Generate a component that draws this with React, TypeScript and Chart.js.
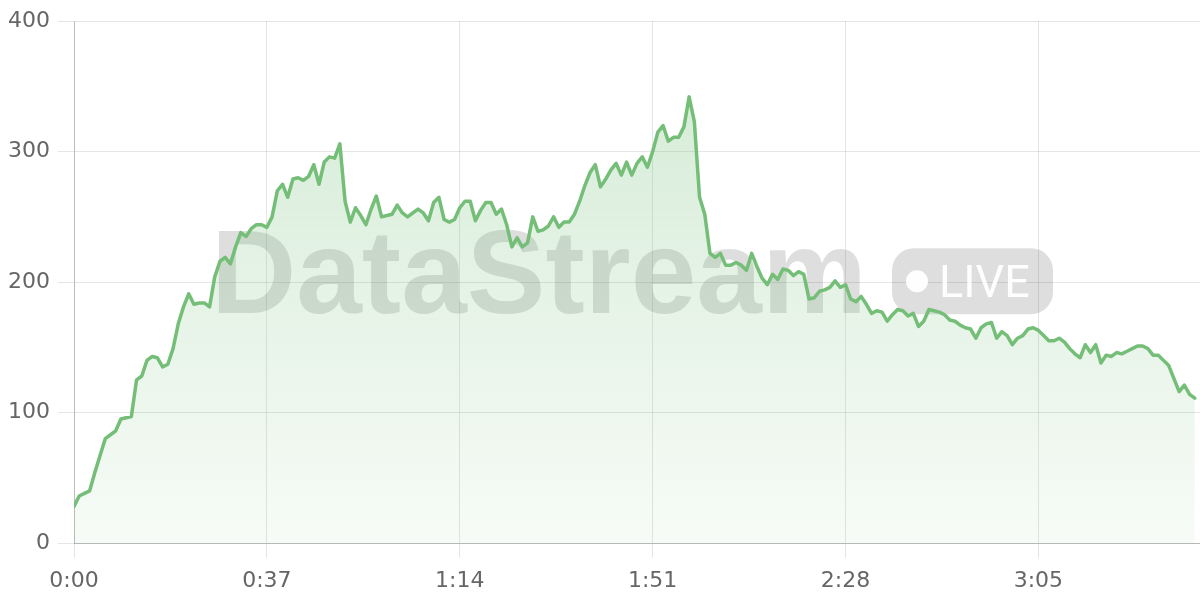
import { useEffect, useRef } from 'react';
import { Chart, registerables } from 'chart.js';

Chart.register(...registerables);

// one sample per second, 0:00 .. 3:35
const values: number[] = [
  28, 36, 38, 40, 54, 67, 80, 83, 86, 95,
  96, 97, 125, 128, 140, 143, 142, 135, 137, 149,
  168, 181, 191, 183, 184, 184, 181, 204, 216, 219,
  214, 227, 238, 235, 241, 244, 244, 242, 250, 270,
  275, 265, 279, 280, 278, 281, 290, 275, 292, 296,
  295, 306, 262, 246, 257, 251, 244, 256, 266, 250,
  251, 252, 259, 253, 250, 253, 256, 253, 247, 261,
  265, 248, 246, 248, 257, 262, 262, 247, 255, 261,
  261, 252, 256, 244, 227, 234, 227, 230, 250, 239,
  240, 243, 250, 242, 246, 246, 252, 262, 274, 284,
  290, 273, 279, 286, 291, 282, 292, 282, 291, 296,
  288, 300, 315, 320, 308, 311, 311, 319, 342, 323,
  265, 252, 222, 219, 222, 213, 213, 215, 213, 209,
  222, 212, 203, 198, 206, 202, 210, 209, 205, 208,
  206, 187, 188, 193, 194, 196, 201, 196, 198, 187,
  185, 189, 183, 176, 178, 177, 170, 175, 179, 178,
  174, 176, 166, 170, 179, 178, 177, 175, 171, 170,
  167, 165, 164, 157, 165, 168, 169, 157, 162, 159,
  152, 157, 159, 164, 165, 163, 159, 155, 155, 157,
  154, 149, 145, 142, 152, 146, 152, 138, 144, 143,
  146, 145, 147, 149, 151, 151, 149, 144, 144, 140,
  136, 126, 116, 121, 114, 111,
];

const xTickSeconds: number[] = [0, 37, 74, 111, 148, 185];
const xMaxSeconds = 216;
const yMin = 0;
const yMax = 400;
const yStep = 100;
const watermarkTitle = 'DataStream';
const watermarkBadge = 'LIVE';

const LINE = 'rgb(116,190,120)';
const TICK_FONT = { family: '"DejaVu Sans", sans-serif', size: 22 };

function fmtTime(s: number): string {
  const m = Math.floor(s / 60);
  const ss = Math.round(s % 60);
  return `${m}:${String(ss).padStart(2, '0')}`;
}

const watermarkPlugin = {
  id: 'watermark',
  beforeDatasetsDraw(chart: any) {
    const { ctx, chartArea } = chart;
    const L = chartArea.left;
    const T = chartArea.top;
    ctx.save();
    ctx.fillStyle = 'rgba(0,0,0,0.13)';
    ctx.font = 'bold 118px "Liberation Sans", Arial, sans-serif';
    ctx.textBaseline = 'alphabetic';
    ctx.textAlign = 'left';
    ctx.fillText(watermarkTitle, L + 137, T + 292);
    ctx.beginPath();
    ctx.roundRect(L + 818, T + 227, 161, 66, 22);
    ctx.fillStyle = 'rgba(0,0,0,0.13)';
    ctx.fill();
    ctx.fillStyle = 'rgba(255,255,255,0.95)';
    ctx.beginPath();
    ctx.arc(L + 843, T + 260, 11, 0, Math.PI * 2);
    ctx.fill();
    ctx.font = '400 45px Roboto, sans-serif';
    ctx.fillText(watermarkBadge, L + 865, T + 276);
    ctx.restore();
  },
};

export default function App() {
  const ref = useRef<HTMLCanvasElement | null>(null);
  useEffect(() => {
    if (!ref.current) return;
    const chart = new Chart(ref.current, {
      type: 'line',
      data: {
        datasets: [
          {
            data: values.map((v, i) => ({ x: i, y: v })),
            borderColor: LINE,
            borderWidth: 3.5,
            borderJoinStyle: 'round',
            borderCapStyle: 'round',
            pointRadius: 0,
            tension: 0,
            fill: 'origin',
            backgroundColor: (c: any) => {
              const area = c.chart.chartArea;
              if (!area) return 'rgba(116,190,120,0.15)';
              const g = c.chart.ctx.createLinearGradient(0, area.top, 0, area.bottom);
              g.addColorStop(0, 'rgba(116,190,120,0.32)');
              g.addColorStop(1, 'rgba(116,190,120,0.06)');
              return g;
            },
          },
        ],
      },
      options: {
        animation: false,
        responsive: true,
        maintainAspectRatio: false,
        layout: { padding: { top: 20, right: 0, left: 0, bottom: 0 } },
        plugins: { legend: { display: false }, tooltip: { enabled: false } },
        scales: {
          x: {
            type: 'linear',
            min: 0,
            max: xMaxSeconds,
            afterBuildTicks: (s: any) => {
              s.ticks = xTickSeconds.map((v) => ({ value: v }));
            },
            afterFit: (s: any) => {
              s.height = 57;
            },
            ticks: {
              callback: (v: any) => fmtTime(Number(v)),
              font: TICK_FONT,
              color: '#666',
              padding: 10,
              maxRotation: 0,
              autoSkip: false,
            },
            grid: { color: 'rgba(0,0,0,0.1)', tickLength: 15 },
            border: { color: 'rgba(0,0,0,0.2)' },
          },
          y: {
            min: yMin,
            max: yMax,
            afterFit: (s: any) => {
              s.width = 74;
            },
            ticks: { stepSize: yStep, font: TICK_FONT, color: '#666', padding: 8 },
            grid: { color: 'rgba(0,0,0,0.1)', tickLength: 16 },
            border: { color: 'rgba(0,0,0,0.18)' },
          },
        },
      },
      plugins: [watermarkPlugin],
    });
    return () => chart.destroy();
  }, []);
  return (
    <div style={{ position: 'fixed', left: 0, top: 0, width: 1200, height: 600, background: '#fff' }}>
      <canvas ref={ref} />
    </div>
  );
}
